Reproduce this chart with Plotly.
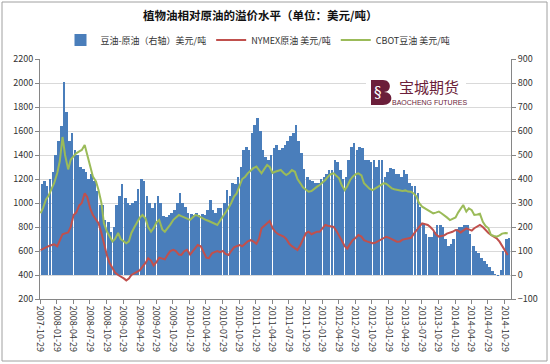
import plotly.graph_objects as go
import pandas as pd

# ---- data (semi-monthly, 2007-11-01 .. 2014-11-15) ----
dates = pd.date_range("2007-11-01", "2014-11-15", freq="SMS")

spread = [  # 豆油-原油（右轴）美元/吨
    380, 390, 370, 400, 430, 500, 560, 620, 805, 680, 560, 590, 520, 500, 450, 440, 430, 400, 420, 390,
    350, 290, 290, 230, 220, 180, 200, 290, 330, 380, 320, 300, 290, 300, 310, 360, 400, 390, 330, 300,
    280, 300, 330, 300, 245, 240, 250, 260, 270, 300, 340, 300, 285, 260, 255, 250, 260, 250, 255, 250,
    270, 312, 270, 260, 280, 280, 300, 354, 330, 383, 380, 410, 450, 521, 535, 520, 590, 625, 653, 600,
    521, 493, 480, 500, 529, 540, 520, 530, 540, 560, 580, 590, 625, 560, 510, 440, 410, 395, 390, 383,
    383, 400, 410, 420, 438, 438, 479, 470, 438, 400, 410, 480, 535, 550, 520, 535, 530, 479, 480, 470,
    480, 451, 479, 479, 410, 430, 444, 440, 420, 420, 410, 438, 420, 383, 370, 370, 340, 284, 215, 170,
    160, 160, 180, 208, 210, 200, 150, 120, 130, 150, 190, 200, 200, 210, 210, 170, 120, 100, 90, 70,
    60, 45, 35, 15, 5, -5, 20, 100, 150, 155,
]

nymex = [  # NYMEX原油 美元/吨
    608, 620, 630, 640, 650, 655, 640, 690, 740, 747, 755, 800, 900, 920, 980, 1000, 1080, 1050, 950, 900,
    860, 831, 750, 664, 560, 500, 450, 420, 400, 390, 372, 355, 370, 400, 415, 430, 440, 469, 500, 540,
    520, 480, 510, 545, 540, 530, 570, 600, 610, 600, 570, 567, 600, 610, 570, 600, 620, 650, 640, 600,
    545, 540, 580, 590, 600, 590, 600, 575, 567, 600, 630, 640, 650, 640, 664, 680, 690, 680, 660, 700,
    790, 810, 830, 850, 790, 761, 740, 733, 720, 700, 660, 640, 620, 608, 650, 700, 750, 761, 740, 750,
    761, 760, 790, 817, 810, 805, 800, 770, 730, 690, 640, 620, 660, 690, 710, 733, 720, 690, 680, 670,
    664, 668, 680, 692, 710, 719, 710, 700, 690, 678, 680, 695, 700, 705, 710, 740, 775, 800, 831, 825,
    817, 800, 775, 740, 720, 725, 730, 745, 750, 760, 775, 770, 755, 770, 789, 780, 770, 790, 803, 817,
    800, 775, 750, 733, 715, 706, 678, 640, 600, 567,
]

cbot = [  # CBOT豆油 美元/吨
    914, 960, 1030, 1060, 1120, 1165, 1250, 1350, 1550, 1400, 1280, 1360, 1390, 1414, 1430, 1442, 1483, 1400, 1300, 1220,
    1180, 1108, 1000, 830, 760, 720, 680, 700, 750, 700, 680, 664, 680, 750, 800, 840, 880, 900, 870, 800,
    760, 790, 840, 858, 780, 761, 790, 820, 860, 880, 900, 890, 880, 870, 860, 880, 900, 895, 880, 870,
    858, 850, 840, 830, 817, 850, 890, 914, 960, 1000, 1053, 1080, 1140, 1200, 1219, 1247, 1270, 1290, 1303, 1270,
    1247, 1280, 1317, 1300, 1250, 1260, 1270, 1275, 1250, 1233, 1250, 1275, 1260, 1200, 1164, 1130, 1110, 1094, 1100, 1120,
    1136, 1150, 1170, 1192, 1220, 1240, 1247, 1230, 1206, 1150, 1108, 1140, 1192, 1220, 1240, 1247, 1230, 1164, 1140, 1120,
    1108, 1120, 1136, 1150, 1164, 1160, 1140, 1122, 1115, 1110, 1108, 1100, 1105, 1095, 1094, 1080, 1053, 1000, 969, 955,
    942, 930, 914, 920, 928, 915, 900, 880, 858, 870, 880, 920, 956, 983, 928, 956, 940, 900, 905, 910,
    844, 810, 789, 733, 725, 719, 730, 745, 750, 747,
]

tick_dates = pd.date_range("2007-10-29", "2014-10-29", freq=pd.DateOffset(months=3))
tick_text = [d.strftime("%Y-%m-%d") for d in tick_dates]

title_text = "植物油相对原油的溢价水平（单位：美元/吨）"
names = ["豆油-原油（右轴）美元/吨", "NYMEX原油 美元/吨", "CBOT豆油 美元/吨"]

# ---- figure ----
FONT = "Noto Sans CJK SC"
W, H = 550, 364
L, R, T, B = 40, 39, 59, 65
PW, PH = W - L - R, H - T - B
MAROON = "#6b1e3a"

def px(x):
    return (x - L) / PW

def py(y):
    return (H - B - y) / PH

def path(points):
    parts = []
    for cmd, pts in points:
        coords = " ".join(f"{px(a):.5f},{py(b):.5f}" for a, b in pts)
        parts.append(f"{cmd} {coords}")
    return " ".join(parts) + " Z"

half_month = 15.2 * 86400000
widths = [half_month * (0.85 if i % 3 == 2 else 1.0) for i in range(len(dates))]

fig = go.Figure()
fig.add_trace(go.Bar(
    x=dates, y=spread, name=names[0], yaxis="y",
    marker=dict(color="#4a7ebb", line=dict(width=0)),
    width=widths, offset=0,
))
fig.add_trace(go.Scatter(
    x=dates, y=nymex, name=names[1], yaxis="y2", mode="lines",
    line=dict(color="#c0504d", width=2),
))
fig.add_trace(go.Scatter(
    x=dates, y=cbot, name=names[2], yaxis="y2", mode="lines",
    line=dict(color="#9bbb59", width=2),
))

axis_common = dict(
    showline=True, linecolor="#868686", linewidth=1,
    ticks="outside", ticklen=4, tickcolor="#868686",
    tickfont=dict(family=FONT, size=9, color="#333333"),
    zeroline=False, fixedrange=True,
)

logo_b = path([
    ("M", [(371, 80)]),
    ("L", [(383, 80)]),
    ("C", [(392, 80), (392, 92), (384, 92)]),
    ("C", [(394, 92), (394, 105), (383, 105)]),
    ("L", [(371, 105)]),
])

fig.update_layout(
    width=W, height=H,
    margin=dict(l=L, r=R, t=T, b=B, autoexpand=False),
    paper_bgcolor="white", plot_bgcolor="white",
    font=dict(family=FONT, size=9, color="#333333"),
    bargap=0,
    showlegend=True,
    legend=dict(
        orientation="h", x=px(258), y=py(40), xanchor="center", yanchor="middle",
        font=dict(family=FONT, size=9, color="#333333"),
        itemwidth=30, tracegroupgap=0, bgcolor="rgba(0,0,0,0)",
    ),
    xaxis=dict(
        type="date",
        range=["2007-10-29", "2014-12-03"],
        tickvals=tick_dates, ticktext=tick_text, tickangle=90,
        showgrid=False, **axis_common,
    ),
    yaxis=dict(
        side="right", range=[-100, 900], dtick=100,
        showgrid=True, gridcolor="#d9d9d9", gridwidth=1,
        **axis_common,
    ),
    yaxis2=dict(
        side="left", overlaying="y", range=[200, 2200], dtick=200,
        showgrid=False, **axis_common,
    ),
    annotations=[
        dict(text="<b>" + title_text + "</b>", xref="paper", yref="paper",
             x=px(260), y=py(15), xanchor="center", yanchor="middle",
             showarrow=False, font=dict(family=FONT, size=11.5, color="#111111")),
        # logo
        dict(text="§", xref="paper", yref="paper", x=px(378), y=py(92.5),
             xanchor="center", yanchor="middle", showarrow=False,
             font=dict(family="DejaVu Serif", size=15, color="white")),
        dict(text="宝城期货", xref="paper", yref="paper", x=px(429), y=py(86),
             xanchor="center", yanchor="middle", showarrow=False,
             font=dict(family=FONT, size=15, color=MAROON)),
        dict(text="BAOCHENG FUTURES", xref="paper", yref="paper", x=px(429), y=py(102),
             xanchor="center", yanchor="middle", showarrow=False,
             font=dict(family="Liberation Sans", size=7, color=MAROON)),
    ],
    shapes=[
        dict(type="rect", xref="paper", yref="paper",
             x0=px(2), x1=px(547), y0=py(361), y1=py(2),
             line=dict(color="#a0a0a0", width=1), fillcolor="rgba(0,0,0,0)", layer="below"),
        dict(type="rect", xref="paper", yref="paper",
             x0=px(366), x1=px(466), y0=py(107), y1=py(76),
             line=dict(width=0), fillcolor="white", layer="above"),
        dict(type="path", xref="paper", yref="paper", path=logo_b,
             line=dict(width=0), fillcolor=MAROON, layer="above"),
    ],
)

fig.write_html(
    "out.html",
    config={"displayModeBar": False, "staticPlot": True},
    post_script="document.body.style.margin='0';document.body.style.padding='0';",
)
